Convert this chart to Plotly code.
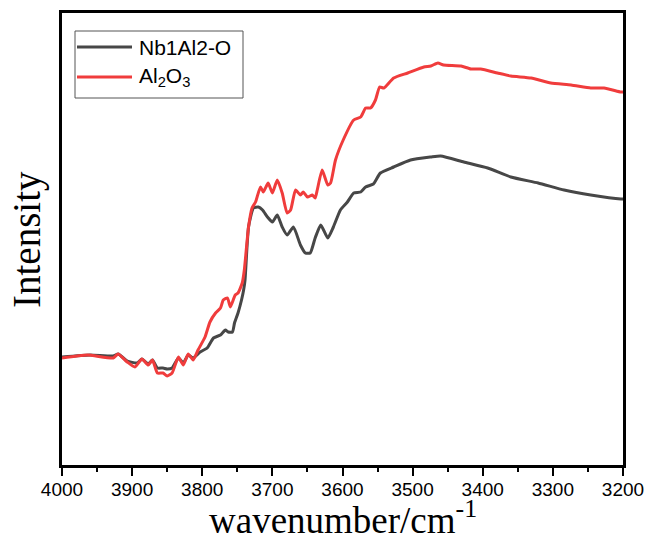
import plotly.graph_objects as go

# FTIR spectra, OH stretching region (wavenumber in cm^-1, intensity in arbitrary units)
nb_wavenumber = [4000, 3960, 3927, 3920, 3907, 3893, 3886, 3877, 3871, 3864, 3856, 3850,
                 3843, 3834, 3827, 3820, 3813, 3803, 3793, 3784, 3774, 3767, 3763, 3757,
                 3754, 3749, 3744, 3741, 3739, 3734, 3727, 3720, 3714, 3707, 3700, 3693,
                 3686, 3679, 3670, 3660, 3653, 3646, 3639, 3631, 3621, 3613, 3603, 3593,
                 3584, 3574, 3567, 3556, 3546, 3527, 3503, 3474, 3460, 3427, 3393, 3360,
                 3321, 3284, 3246, 3203, 3200]
nb_intensity = [107, 109, 108, 110, 103, 101, 105, 100, 104, 96, 96, 95,
                96, 106, 101, 109, 106, 112, 116, 126, 129, 134, 132, 132,
                141, 151, 164, 174, 184, 237, 256, 257, 254, 247, 242, 249,
                237, 229, 237, 219, 211, 211, 226, 239, 226, 237, 254, 262,
                271, 272, 277, 280, 291, 297, 304, 307, 308, 302, 296, 287,
                281, 274, 269, 265, 265]

al_wavenumber = [4000, 3964, 3927, 3920, 3907, 3896, 3886, 3877, 3871, 3864, 3856, 3850,
                 3843, 3834, 3827, 3820, 3813, 3806, 3796, 3789, 3781, 3774, 3770, 3764,
                 3760, 3753, 3749, 3743, 3740, 3734, 3729, 3724, 3717, 3713, 3706, 3700,
                 3693, 3686, 3679, 3674, 3667, 3660, 3656, 3650, 3643, 3639, 3636, 3629,
                 3621, 3617, 3610, 3599, 3584, 3574, 3567, 3560, 3553, 3547, 3541, 3527,
                 3507, 3484, 3474, 3464, 3456, 3431, 3417, 3403, 3379, 3360, 3331, 3303,
                 3274, 3246, 3227, 3203, 3200]
al_intensity = [106, 109, 106, 110, 102, 97, 105, 99, 104, 91, 91, 88,
                91, 107, 99, 110, 104, 114, 127, 142, 151, 156, 164, 166,
                157, 169, 171, 181, 194, 237, 256, 262, 277, 272, 281, 271,
                284, 271, 251, 254, 274, 269, 272, 267, 269, 266, 274, 294,
                279, 281, 304, 324, 344, 347, 356, 356, 364, 377, 376, 386,
                391, 397, 398, 401, 399, 398, 395, 395, 391, 388, 386, 381,
                379, 376, 376, 372, 372]

x_ticks = [4000, 3900, 3800, 3700, 3600, 3500, 3400, 3300, 3200]

BLACK = "#474747"
RED = "#f03c3c"

# plot-area geometry in pixels (used to place the hand-drawn legend and titles)
L, R, T, B = 62, 22, 13, 75
W, H = 645, 540
PW, PH = W - L - R, H - T - B


def px2x(px):
    return (px - L) / PW


def py2y(py):
    return (H - B - py) / PH


fig = go.Figure()
fig.add_trace(go.Scatter(x=nb_wavenumber, y=nb_intensity, mode="lines",
                         name="Nb1Al2-O", line=dict(color=BLACK, width=3,
                                                    shape="spline", smoothing=0.5)))
fig.add_trace(go.Scatter(x=al_wavenumber, y=al_intensity, mode="lines",
                         name="Al<sub>2</sub>O<sub>3</sub>",
                         line=dict(color=RED, width=3, shape="spline", smoothing=0.5)))

fig.update_layout(
    width=W, height=H,
    margin=dict(l=L, r=R, t=T, b=B, autoexpand=False),
    paper_bgcolor="white", plot_bgcolor="white",
    showlegend=False,
    xaxis=dict(range=[4000, 3200], tickvals=x_ticks, automargin=False,
               ticks="outside", ticklen=8, tickwidth=2, tickcolor="black",
               ticklabelstandoff=-3,
               minor=dict(dtick=50, ticks="outside", ticklen=4, tickwidth=2,
                          tickcolor="black"),
               showline=True, linewidth=3, linecolor="black", mirror=True,
               showgrid=False, zeroline=False,
               tickfont=dict(family="Liberation Sans, Arial", size=19, color="black")),
    yaxis=dict(range=[-1, 451], showticklabels=False, ticks="", automargin=False,
               showline=True, linewidth=3, linecolor="black", mirror=True,
               showgrid=False, zeroline=False),
)

# axis titles
fig.add_annotation(text="wavenumber/cm<sup>-1</sup>", xref="paper", yref="paper",
                   x=0.5, y=py2y(517), xanchor="center", yanchor="middle",
                   showarrow=False,
                   font=dict(family="Liberation Serif, Times New Roman", size=37,
                             color="black"))
fig.add_annotation(text="Intensity", xref="paper", yref="paper",
                   x=px2x(27), y=py2y(240), xanchor="center", yanchor="middle",
                   textangle=-90, showarrow=False,
                   font=dict(family="Liberation Serif, Times New Roman", size=39,
                             color="black"))

# legend box with long line samples
fig.add_shape(type="rect", xref="paper", yref="paper",
              x0=px2x(75), x1=px2x(243), y0=py2y(98), y1=py2y(31),
              line=dict(color="#555555", width=1), fillcolor="white", layer="above")
for py, color, label in [(47, BLACK, "Nb1Al2-O"),
                         (77, RED, "Al<sub>2</sub>O<sub>3</sub>")]:
    fig.add_shape(type="line", xref="paper", yref="paper",
                  x0=px2x(77), x1=px2x(132), y0=py2y(py), y1=py2y(py),
                  line=dict(color=color, width=3), layer="above")
    fig.add_annotation(text=label, xref="paper", yref="paper",
                       x=px2x(137), y=py2y(py), xanchor="left", yanchor="middle",
                       showarrow=False,
                       font=dict(family="Liberation Sans, Arial", size=21, color="black"))

fig.write_html("out.html")
